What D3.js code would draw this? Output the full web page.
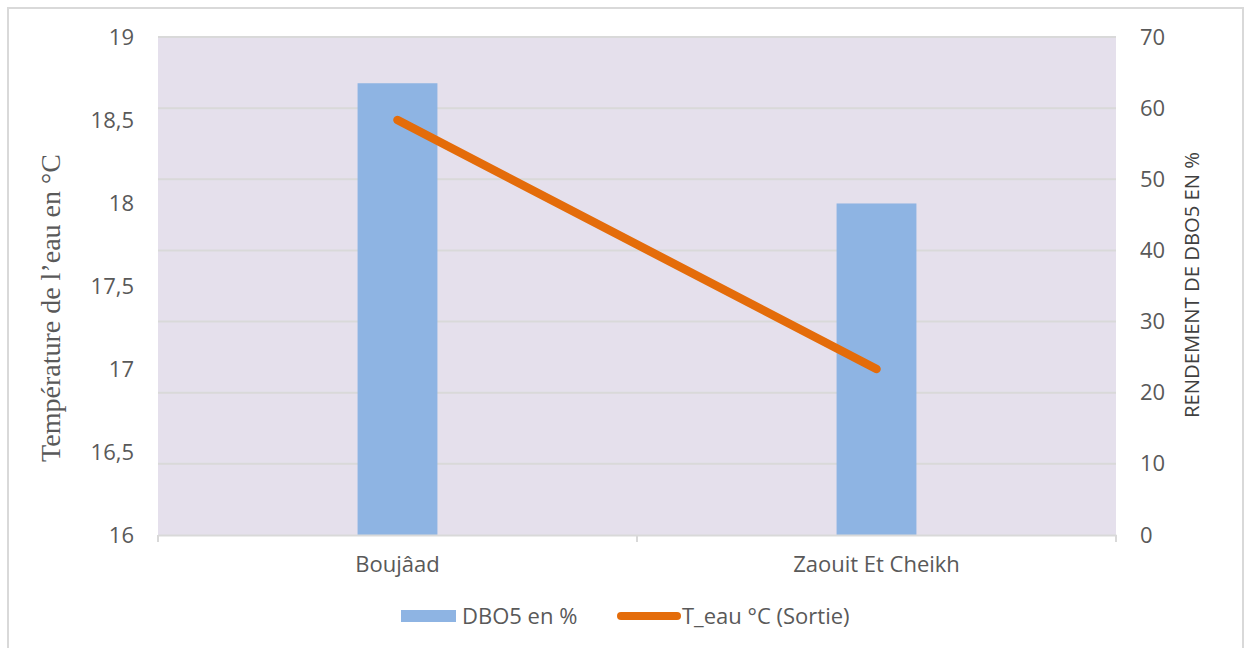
<!DOCTYPE html>
<html><head><meta charset="utf-8">
<script src="https://cdn.jsdelivr.net/npm/d3@7"></script>
<style>body{margin:0;background:#fff}svg{display:block}</style>
</head><body>
<svg id="c" width="1247" height="648"></svg>
<script>
const categories = ["Boujâad", "Zaouit Et Cheikh"];
const dboValues = [63.5, 46.6];          // DBO5 en % (right axis)
const tempValues = [18.5, 17.0];         // T_eau °C (Sortie) (left axis)
const leftTicks = [16, 16.5, 17, 17.5, 18, 18.5, 19];
const rightTicks = [0, 10, 20, 30, 40, 50, 60, 70];
const seriesNames = ["DBO5 en %", "T_eau °C (Sortie)"];

const svg = d3.select("#c");
const m = {l:158, r:1116, t:37, b:535};
const txt = "#595959", font = "'Open Sans', sans-serif", fs = 22;

svg.append("rect").attr("x",8).attr("y",8).attr("width",1235).attr("height",650)
  .attr("fill","#fff").attr("stroke","#d9d9d9").attr("stroke-width",2);

const x = d3.scaleBand().domain(categories).range([m.l, m.r]);
const yL = d3.scaleLinear().domain([16,19]).range([m.b, m.t]);
const yR = d3.scaleLinear().domain([0,70]).range([m.b, m.t]);

svg.append("rect").attr("x",m.l).attr("y",m.t).attr("width",m.r-m.l).attr("height",m.b-m.t).attr("fill","#E5E0EC");

// gridlines (from right axis)
svg.append("g").selectAll("line").data(rightTicks.slice(1)).join("line")
  .attr("x1",m.l).attr("x2",m.r).attr("y1",d=>yR(d)).attr("y2",d=>yR(d))
  .attr("stroke","#D9D9D9").attr("stroke-width",2);

// bars
const bw = x.bandwidth()/6;
svg.append("g").selectAll("rect").data(categories).join("rect")
  .attr("x",(d)=>x(d)+x.bandwidth()/2-bw/2).attr("width",bw)
  .attr("y",(d,i)=>yR(dboValues[i])).attr("height",(d,i)=>yR(0)-yR(dboValues[i]))
  .attr("fill","#8EB4E3");

// x axis
const xa = svg.append("g").attr("transform",`translate(0,${m.b})`)
  .call(d3.axisBottom(x).tickSize(0).tickPadding(21));
xa.select(".domain").attr("stroke","#D9D9D9").attr("stroke-width",2);
xa.selectAll("text").attr("fill",txt).attr("font-family",font).attr("font-size",fs);
const xb = [m.l, m.l+x.step(), m.r];
svg.append("g").selectAll("line").data(xb).join("line")
  .attr("x1",d=>d).attr("x2",d=>d).attr("y1",m.b).attr("y2",m.b+7)
  .attr("stroke","#D9D9D9").attr("stroke-width",2);

// left axis
const la = svg.append("g").attr("transform",`translate(${m.l},0)`)
  .call(d3.axisLeft(yL).tickValues(leftTicks).tickSize(0).tickPadding(24)
    .tickFormat(d=>String(d).replace(".",",")));
la.select(".domain").remove();
la.selectAll("text").attr("fill",txt).attr("font-family",font).attr("font-size",fs);

// right axis
const ra = svg.append("g").attr("transform",`translate(${m.r},0)`)
  .call(d3.axisRight(yR).tickValues(rightTicks).tickSize(0).tickPadding(24));
ra.select(".domain").remove();
ra.selectAll("text").attr("fill",txt).attr("font-family",font).attr("font-size",fs);

// line
const line = d3.line().x((d,i)=>x(categories[i])+x.bandwidth()/2).y(d=>yL(d));
svg.append("path").datum(tempValues).attr("d",line).attr("fill","none")
  .attr("stroke","#E46C0A").attr("stroke-width",8.5).attr("stroke-linecap","round");

// axis titles
svg.append("text").attr("transform","translate(60,308) rotate(-90)").attr("text-anchor","middle")
  .attr("font-family","'Liberation Serif', serif").attr("font-size",28).attr("fill",txt)
  .text("Température de l’eau en °C");
svg.append("text").attr("transform","translate(1199,285) rotate(-90)").attr("text-anchor","middle")
  .attr("font-family",font).attr("font-size",20).attr("fill","#404040")
  .attr("textLength",266).attr("lengthAdjust","spacingAndGlyphs")
  .text("RENDEMENT DE DBO5 EN %");

// legend
const lg = svg.append("g").attr("font-family",font).attr("font-size",fs).attr("fill",txt);
lg.append("rect").attr("x",401).attr("y",610).attr("width",55).attr("height",12).attr("fill","#8EB4E3");
lg.append("text").attr("x",462).attr("y",624).text(seriesNames[0]);
lg.append("line").attr("x1",621).attr("x2",677).attr("y1",616).attr("y2",616)
  .attr("stroke","#E46C0A").attr("stroke-width",8).attr("stroke-linecap","round");
lg.append("text").attr("x",682).attr("y",624).text(seriesNames[1]);
</script>
</body></html>
